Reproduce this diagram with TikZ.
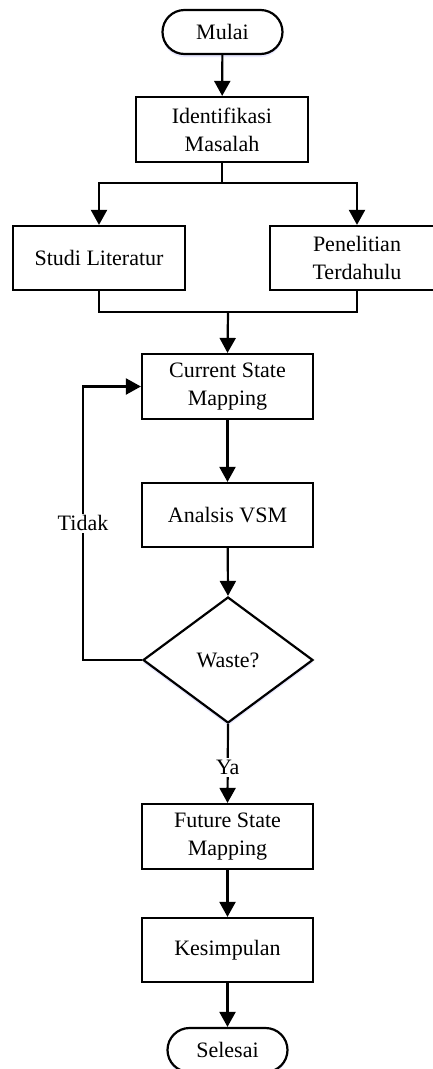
\documentclass[tikz,border=0pt]{standalone}
\usepackage{fontspec}
\setmainfont{Liberation Serif}
\usetikzlibrary{arrows.meta,shapes.geometric,shadows}
\begin{document}
\begin{tikzpicture}[x=1pt,y=-1pt,
  line width=2.2pt,
  font=\fontsize{22}{28}\selectfont,
  arr/.style={-{Triangle[width=16pt,length=15pt]}},
  procbox/.style={draw,line width=2.2pt,rectangle,minimum width=171pt,minimum height=64pt,align=center,inner sep=2pt},
  term/.style={draw,line width=2.2pt,rectangle,rounded corners=22pt,minimum width=120pt,minimum height=44pt,fill=white,
    drop shadow={shadow xshift=0pt,shadow yshift=-3pt,fill=blue!25,opacity=0.35}},
  decision/.style={draw,line width=2.2pt,diamond,minimum width=170pt,minimum height=126pt,inner sep=0pt,fill=white,
    drop shadow={shadow xshift=0pt,shadow yshift=-3pt,fill=blue!25,opacity=0.35}},
  lbl/.style={fill=white,inner sep=2pt}
]
\useasboundingbox (0,0) rectangle (432,1069);
\node[term] (mulai) at (222.5,32) {Mulai};
\node[procbox,minimum width=172pt,minimum height=65pt] (ident) at (222,129.5) {Identifikasi\\Masalah};
\node[procbox,minimum width=172pt] (studi) at (99,258) {Studi Literatur};
\node[procbox,minimum width=174pt] (pen) at (357,258) {Penelitian\\Terdahulu};
\node[procbox,minimum height=65pt] (current) at (227.5,386.5) {Current State\\Mapping};
\node[procbox] (analsis) at (227.5,515) {Analsis VSM};
\node[decision] (waste) at (228,660) {Waste?};
\node[procbox,minimum height=65pt] (future) at (227.5,836.5) {Future State\\Mapping};
\node[procbox] (kesim) at (227.5,950) {Kesimpulan};
\node[term] (selesai) at (227.5,1050) {Selesai};

\coordinate (j1) at (222,183);
\coordinate (j2) at (228,312);
\coordinate (loopc) at (83,660);

\draw[arr] (mulai) -- (ident);
\draw (ident.south) -- (j1);
\draw[arr] (j1) -| (studi.north);
\draw[arr] (j1) -| (pen.north);
\draw (studi.south) |- (j2) -| (pen.south);
\draw[arr] (j2) -- (current.north);
\draw[arr] (current) -- (analsis);
\draw[arr] (analsis) -- (waste.north);
\draw[arr] (waste.south) -- node[lbl,pos=0.55]{Ya} (future.north);
\draw[arr] (waste.west) -- (loopc) |- node[lbl,pos=0.25]{Tidak} (current.west);
\draw[arr] (future) -- (kesim);
\draw[arr] (kesim) -- (selesai);
\end{tikzpicture}
\end{document}
